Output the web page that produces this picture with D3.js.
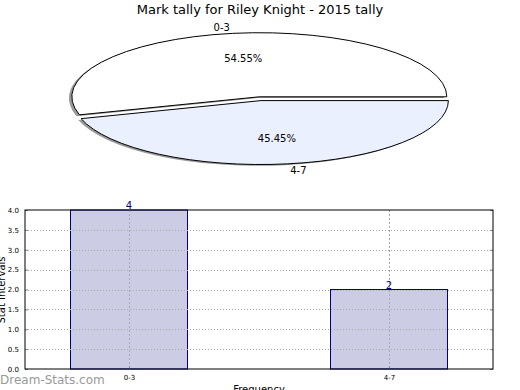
<!DOCTYPE html>
<html><head><meta charset="utf-8">
<script src="https://cdn.jsdelivr.net/npm/d3@7"></script>
<style>body{margin:0;background:#fff}svg{display:block}text{font-family:"DejaVu Sans",sans-serif}</style>
</head><body>
<svg id="c" width="520" height="390"></svg>
<script>
const title = "Mark tally for Riley Knight - 2015 tally";
const categories = ["0-3", "4-7"];
const counts = [6, 5];
const pctLabels = ["54.55%", "45.45%"];
const barValues = [4, 2];
const yTicks = [0, 0.5, 1, 1.5, 2, 2.5, 3, 3.5, 4];
const pieColors = ["#ffffff", "#eaf0fd"];
const explode = [0, 0.06];

const svg = d3.select("#c");
svg.append("rect").attr("width", 520).attr("height", 390).attr("fill", "#fff");

svg.append("text").attr("x", 260).attr("y", 14).attr("text-anchor", "middle")
  .attr("font-size", 13).text(title);

// ---- Pie (elliptical) ----
const cx = 259.3, cy = 96.8, rx = 187.5, ry = 64;
const pie = d3.pie().sort(null).startAngle(Math.PI / 2).endAngle(Math.PI / 2 - 2 * Math.PI);
const arcs = pie(counts);
const arc = d3.arc().innerRadius(0).outerRadius(1);
const pg = svg.append("g");
arcs.forEach((a, i) => {
  const mid = (a.startAngle + a.endAngle) / 2;
  const ox = Math.sin(mid) * explode[i], oy = -Math.cos(mid) * explode[i];
  const tx = cx + ox * rx, ty = cy + oy * ry;
  pg.append("path").attr("d", arc(a))
    .attr("transform", `translate(${tx - 0.015 * rx},${ty + 0.02 * ry}) scale(${rx},${ry})`)
    .attr("fill", "#999").attr("stroke", "none");
  pg.append("path").attr("d", arc(a))
    .attr("transform", `translate(${tx},${ty}) scale(${rx},${ry})`)
    .attr("fill", pieColors[i]).attr("stroke", "#000").attr("stroke-width", 1)
    .attr("vector-effect", "non-scaling-stroke");
  const sx = Math.sin(mid), sy = -Math.cos(mid);
  const lx = tx + 1.1 * rx * sx, ly = ty + 1.1 * ry * sy;
  pg.append("text").attr("x", lx).attr("y", ly).attr("dy", "0.35em")
    .attr("text-anchor", sx < 0 ? "end" : "start").attr("font-size", 10).text(categories[i]);
  pg.append("text").attr("x", tx + 0.6 * rx * sx).attr("y", ty + 0.6 * ry * sy).attr("dy", "0.35em")
    .attr("text-anchor", "middle").attr("font-size", 10).text(pctLabels[i]);
});

// ---- Bar chart ----
const L = 25, R = 493, T = 210, B = 369;
const x = d3.scaleLinear().domain([-0.4, 1.4]).range([L, R]);
const y = d3.scaleLinear().domain([0, 4]).range([B, T]);
const bw = 0.45;
const bg = svg.append("g");

categories.forEach((c, i) => {
  bg.append("rect").attr("x", x(i - bw / 2)).attr("y", y(barValues[i]))
    .attr("width", x(i + bw / 2) - x(i - bw / 2)).attr("height", y(0) - y(barValues[i]))
    .attr("fill", "#ccccE4").attr("stroke", "#000080").attr("stroke-width", 1);
});
yTicks.forEach(t => {
  if (t === 0 || t === 4) return;
  bg.append("line").attr("x1", L).attr("x2", R).attr("y1", Math.round(y(t)) + 0.5).attr("y2", Math.round(y(t)) + 0.5)
    .attr("stroke", "#aaa").attr("stroke-width", 1).attr("stroke-dasharray", "1,2");
});
categories.forEach((c, i) => {
  bg.append("line").attr("x1", Math.round(x(i)) + 0.5).attr("x2", Math.round(x(i)) + 0.5).attr("y1", T).attr("y2", B)
    .attr("stroke", "#aaa").attr("stroke-width", 1).attr("stroke-dasharray", "2,2");
});
const yAxis = d3.axisLeft(y).tickValues(yTicks).tickFormat(d3.format(".1f")).tickSize(-3).tickPadding(6);
const ya = bg.append("g").attr("transform", `translate(${L},0)`).call(yAxis);
ya.select(".domain").remove();
ya.selectAll("text").attr("font-size", 7).attr("font-family", "DejaVu Sans");
ya.selectAll("line").attr("stroke", "#888");
const yAxisR = d3.axisRight(y).tickValues(yTicks).tickFormat("").tickSize(-3);
const yr = bg.append("g").attr("transform", `translate(${R},0)`).call(yAxisR);
yr.select(".domain").remove(); yr.selectAll("line").attr("stroke", "#888");
const xAxis = d3.axisBottom(x).tickValues([0, 1]).tickFormat((d, i) => categories[i]).tickSize(-3).tickPadding(6);
const xa = bg.append("g").attr("transform", `translate(0,${B})`).call(xAxis);
xa.select(".domain").remove();
xa.selectAll("text").attr("font-size", 7).attr("font-family", "DejaVu Sans");
xa.selectAll("line").attr("stroke", "#888");

bg.append("rect").attr("x", L).attr("y", T).attr("width", R - L).attr("height", B - T)
  .attr("fill", "none").attr("stroke", "#000").attr("stroke-width", 1);

categories.forEach((c, i) => {
  bg.append("text").attr("x", x(i)).attr("y", y(barValues[i]) - 1).attr("text-anchor", "middle")
    .attr("font-size", 10).attr("fill", "#000080").text(barValues[i]);
});

svg.append("text").attr("transform", "translate(5,290) rotate(-90)").attr("text-anchor", "middle")
  .attr("font-size", 10).text("Stat Intervals");
svg.append("text").attr("x", 259).attr("y", 393).attr("text-anchor", "middle")
  .attr("font-size", 10).text("Frequency");
svg.append("text").attr("x", 0).attr("y", 384).attr("font-size", 12).attr("fill", "#999")
  .text("Dream-Stats.com");
</script>
</body></html>
